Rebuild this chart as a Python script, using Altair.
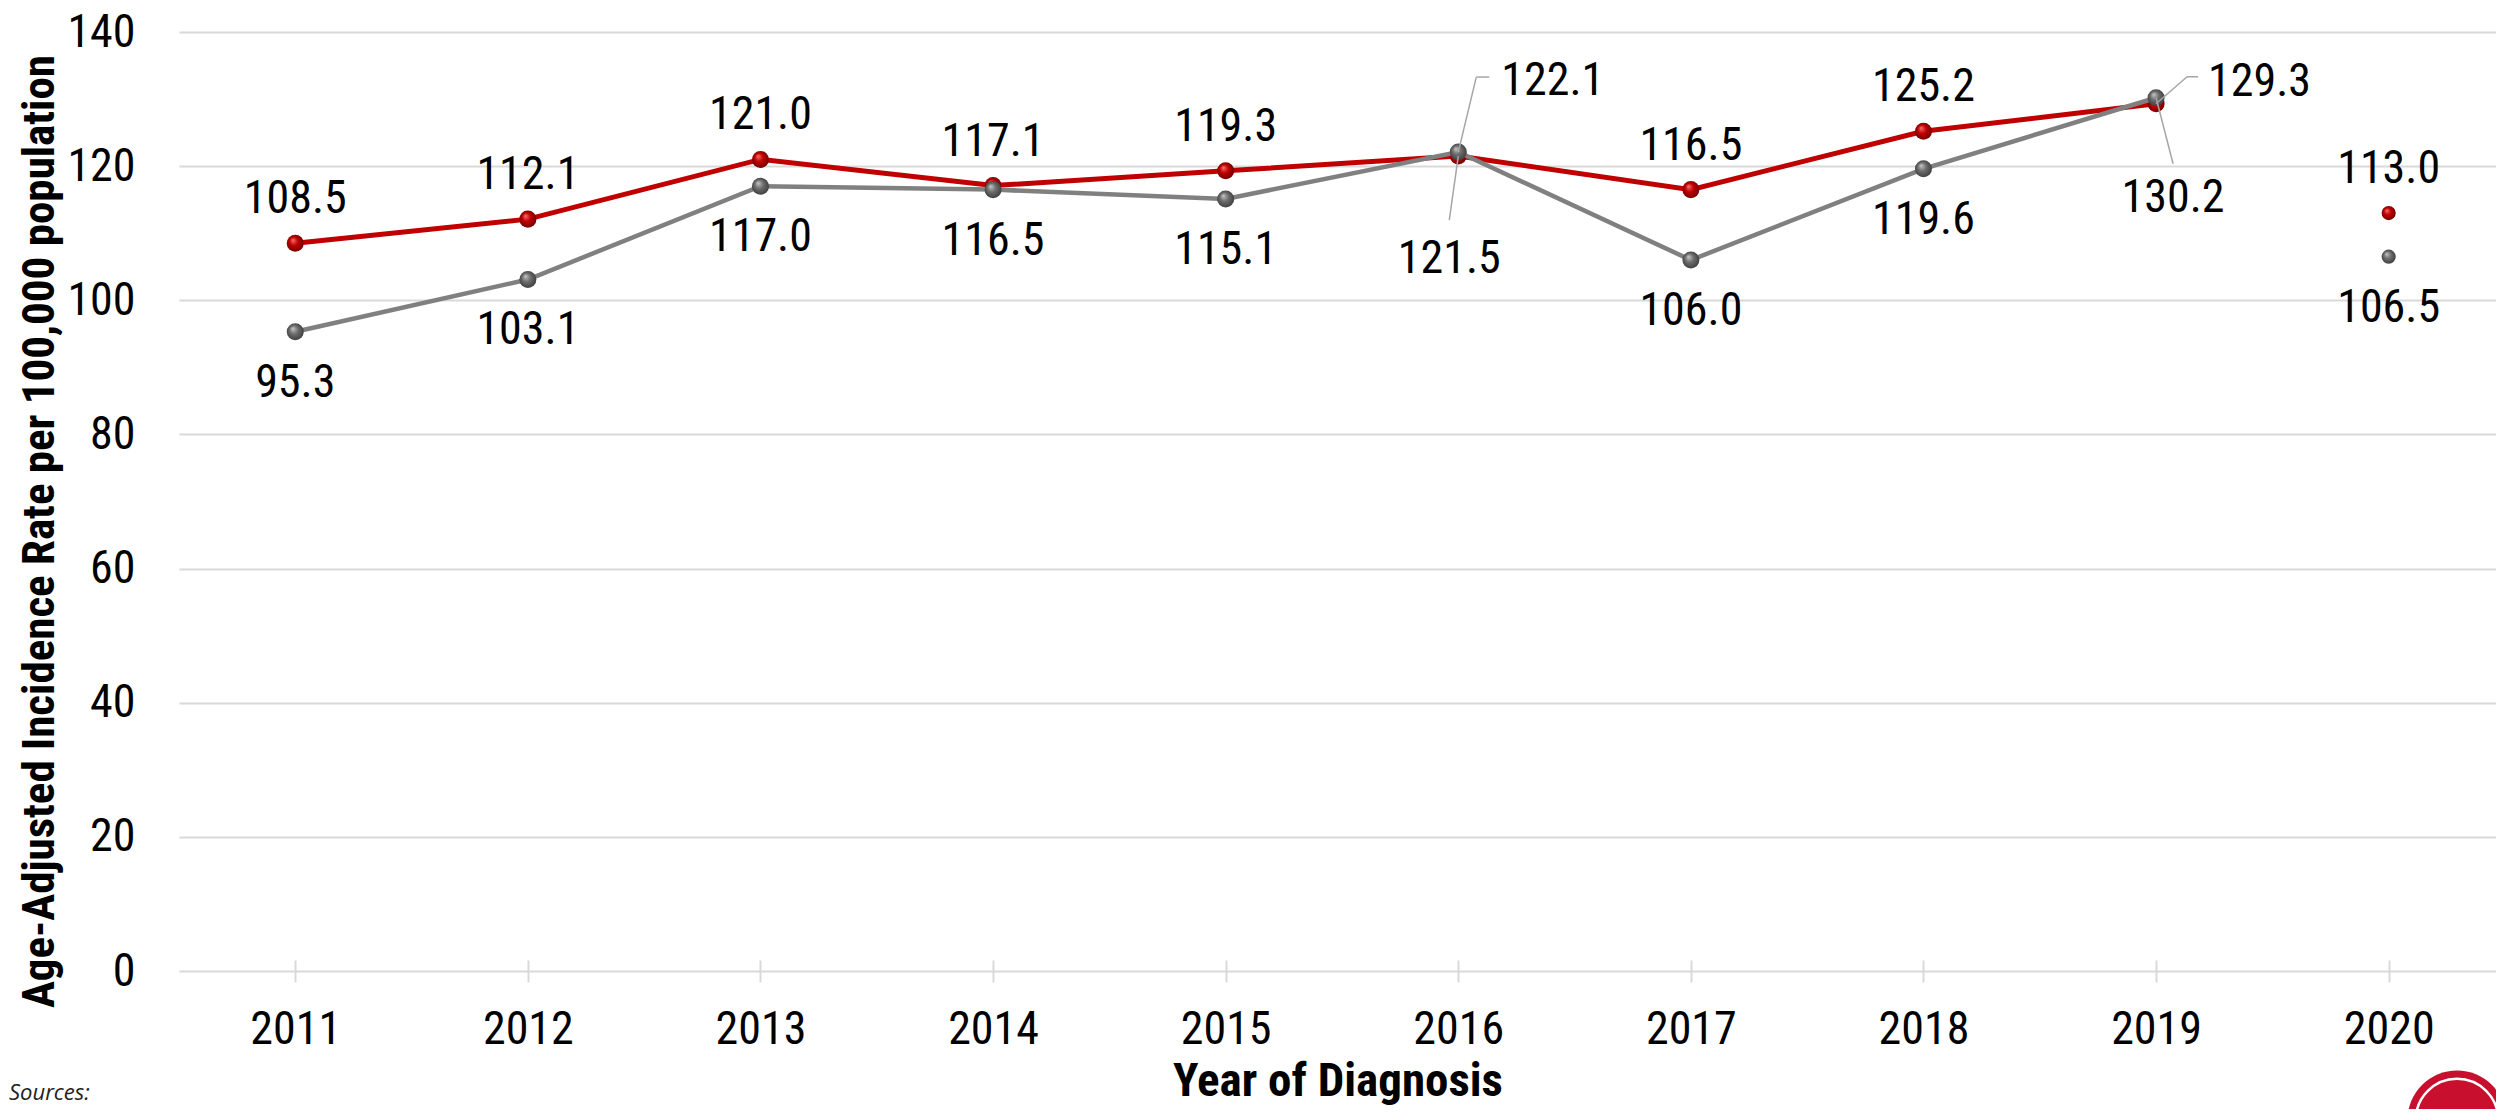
import altair as alt
import pandas as pd

years = [2011, 2012, 2013, 2014, 2015, 2016, 2017, 2018, 2019, 2020]
red_values = [108.5, 112.1, 121.0, 117.1, 119.3, 121.5, 116.5, 125.2, 129.3, 113.0]
gray_values = [95.3, 103.1, 117.0, 116.5, 115.1, 122.1, 106.0, 119.6, 130.2, 106.5]
y_ticks = [0, 20, 40, 60, 80, 100, 120, 140]
line_years = [2011, 2012, 2013, 2014, 2015, 2016, 2017, 2018, 2019]

FONT = "Liberation Sans Narrow, Arial Narrow, Roboto Condensed, DejaVu Sans Condensed, sans-serif"
RED = "#C00000"
GRAY = "#808080"

red_df = pd.DataFrame({"year": years, "value": red_values})
gray_df = pd.DataFrame({"year": years, "value": gray_values})
red_line_df = red_df[red_df["year"].isin(line_years)]
gray_line_df = gray_df[gray_df["year"].isin(line_years)]

x_enc = alt.X(
    "year:O",
    scale=alt.Scale(type="point", padding=0.4806, align=0.52),
    axis=alt.Axis(
        title="Year of Diagnosis",
        titleFont=FONT, titleFontSize=47, titleFontWeight="bold", titleColor="black",
        titleBaseline="alphabetic", titleY=135,
        labelFont=FONT, labelFontSize=46, labelColor="black", labelAngle=0,
        labelPadding=25, tickSize=22, tickColor="#d9d9d9", tickWidth=2,
        domain=False, grid=False, offset=-11,
    ),
)
y_enc = alt.Y(
    "value:Q",
    scale=alt.Scale(domain=[0, 140], nice=False, zero=True),
    axis=alt.Axis(
        title="Age-Adjusted Incidence Rate per 100,000 population",
        titleFont=FONT, titleFontSize=45, titleFontWeight="bold", titleColor="black",
        titleAngle=270, titleBaseline="alphabetic", titleX=-126, titleY=499,
        titleAlign="center",
        values=y_ticks, labelFont=FONT, labelFontSize=46, labelColor="black",
        labelPadding=44, ticks=False, domain=False,
        grid=True, gridColor="#d9d9d9", gridWidth=2,
    ),
)

red_grad = {"gradient": "radial", "x1": 0.35, "y1": 0.3, "r1": 0, "x2": 0.5, "y2": 0.5, "r2": 0.55,
            "stops": [{"offset": 0, "color": "#ff7070"}, {"offset": 0.45, "color": "#c00000"},
                      {"offset": 1, "color": "#6a0000"}]}
gray_grad = {"gradient": "radial", "x1": 0.35, "y1": 0.3, "r1": 0, "x2": 0.5, "y2": 0.5, "r2": 0.55,
             "stops": [{"offset": 0, "color": "#c8c8c8"}, {"offset": 0.45, "color": "#6e6e6e"},
                       {"offset": 1, "color": "#3a3a3a"}]}

def line(df, color, w):
    return alt.Chart(df).mark_line(color=color, strokeWidth=w).encode(x=x_enc, y=y_enc)

def pts(df, grad, size):
    return alt.Chart(df).mark_point(filled=True, fill=grad, stroke=None, size=size, opacity=1).encode(
        x="year:O", y="value:Q")

def labels(df, dx, dy, align="center"):
    return alt.Chart(df).mark_text(font=FONT, fontSize=46, color="black", baseline="alphabetic",
                                   align=align, dx=dx, dy=dy).encode(
        x="year:O", y="value:Q", text=alt.Text("value:Q", format=".1f"))

def leader(df, x0, y0, x1, y1):
    return alt.Chart(df).mark_rule(color="#a6a6a6", strokeWidth=1.5, xOffset=x0, yOffset=y0,
                                   x2Offset=x1, y2Offset=y1).encode(
        x="year:O", x2="year:O", y="value:Q", y2="value:Q")

special = [2016, 2019]
red_norm = red_df[~red_df["year"].isin(special)]
gray_norm = gray_df[~gray_df["year"].isin(special)]
r16 = red_df[red_df["year"] == 2016]
g16 = gray_df[gray_df["year"] == 2016]
r19 = red_df[red_df["year"] == 2019]
g19 = gray_df[gray_df["year"] == 2019]
r20 = red_df[red_df["year"] == 2020]
g20 = gray_df[gray_df["year"] == 2020]
red_main = red_df[red_df["year"] != 2020]
gray_main = gray_df[gray_df["year"] != 2020]

logo_df = pd.DataFrame({"k": [1]})
logo = alt.Chart(logo_df).mark_point(filled=True, fill="#c8102e", stroke=None, size=9800, opacity=1).encode(
    x=alt.value(2278), y=alt.value(1088))
logo_ring = alt.Chart(logo_df).mark_point(filled=False, stroke="white", strokeWidth=2.5, size=6800, opacity=1).encode(
    x=alt.value(2278), y=alt.value(1088))
sources = alt.Chart(logo_df).mark_text(text="Sources:", font="Open Sans", fontStyle="italic", fontSize=22,
                                       color="#222222", align="left", baseline="alphabetic").encode(
    x=alt.value(-170), y=alt.value(1068))

chart = alt.layer(
    line(red_line_df, RED, 5),
    pts(red_main, red_grad, 290),
    pts(r20, red_grad, 200),
    line(gray_line_df, GRAY, 4.5),
    pts(gray_main, gray_grad, 290),
    pts(g20, gray_grad, 200),
    leader(r16, 0, 0, -9, 64),
    leader(g16, 0, 0, 18, -75),
    leader(g16, 18, -75, 31, -75),
    leader(r19, 0, 0, 31, -27),
    leader(r19, 31, -27, 42, -27),
    leader(g19, 0, 0, 17, 66),
    labels(red_norm, 0, -30),
    labels(gray_norm, 0, 65),
    labels(r16, -9, 117),
    labels(g16, 43, -57, "left"),
    labels(r19, 52, -8, "left"),
    labels(g19, 17, 114),
    logo, logo_ring, sources,
).properties(
    width=2317, height=939,
    autosize=alt.AutoSizeParams(type="none"),
    padding={"left": 171, "top": 24, "right": 0, "bottom": 138},
).configure(background="white").configure_view(stroke=None)

chart.save("out.html", embed_options={"renderer": "svg", "actions": False})
